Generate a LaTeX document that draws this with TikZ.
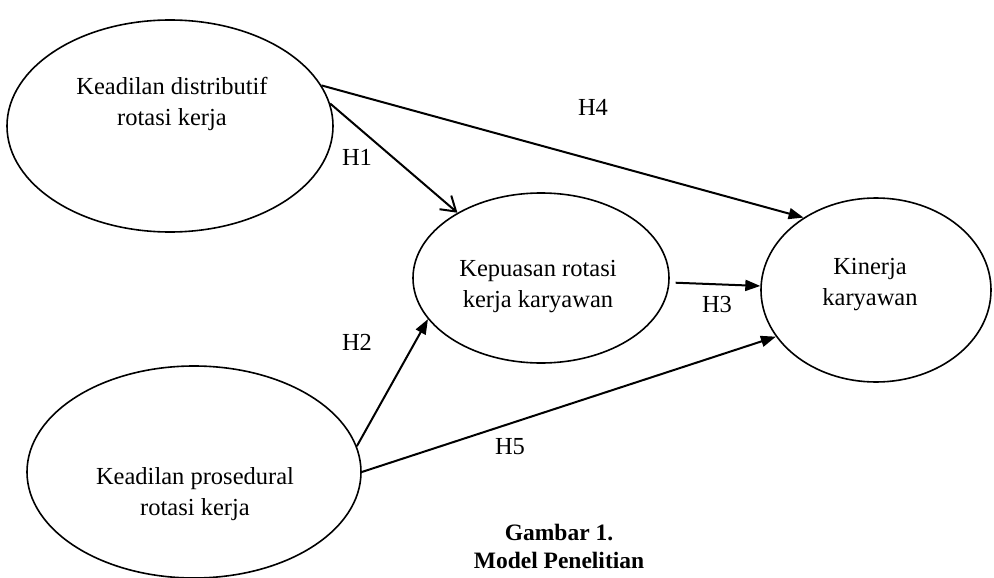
\documentclass[tikz,border=0pt]{standalone}
\usepackage{fontspec}
\setmainfont{Liberation Serif}
\usetikzlibrary{shapes.geometric}
\usetikzlibrary{arrows.meta}

\begin{document}
\begin{tikzpicture}[x=1pt,y=-1pt,
  oval/.style={draw,ellipse,line width=1.6pt,inner sep=0pt},
  txt/.style={align=center,font=\fontsize{24.5}{31}\selectfont},
  hyp/.style={font=\fontsize{24.5}{28}\selectfont},
  arr/.style={line width=2pt,-{Triangle[length=15pt,width=11pt]}},
  openarr/.style={line width=2pt,-{Straight Barb[length=14pt,width=18pt]}}]
 \useasboundingbox (0,0) rectangle (994,578);

 \node[oval,minimum width=326pt,minimum height=212pt] (dist) at (170,126) {};
 \node[oval,minimum width=334pt,minimum height=212pt] (pros) at (194,472) {};
 \node[oval,minimum width=256pt,minimum height=170pt] (puas) at (541,278) {};
 \node[oval,minimum width=230pt,minimum height=184pt] (kin) at (876,290) {};

 \node[txt] (distT) at (172,104) {Keadilan distributif\\rotasi kerja};
 \node[txt] (prosT) at (195,494) {Keadilan prosedural\\rotasi kerja};
 \node[txt] (puasT) at (538,287) {Kepuasan rotasi\\kerja karyawan};
 \node[txt] (kinT) at (870,285) {Kinerja\\karyawan};

 \draw[openarr] (dist.8) -- (puas.142);
 \draw[arr] (dist.15) -- (kin.135);
 \draw[arr] (pros.9) -- (puas.200);
 \draw[arr] (pros.east) -- (kin.205);
 \draw[arr,shorten <=6pt] (puas.-2) -- (kin.178);

 \node[hyp] (h1) at (357,157) {H1};
 \node[hyp] (h2) at (357,342) {H2};
 \node[hyp] (h3) at (717,305) {H3};
 \node[hyp] (h4) at (593,107) {H4};
 \node[hyp] (h5) at (510,447) {H5};

 \node[align=center,font=\fontsize{23.5}{28}\selectfont\bfseries] (cap) at (559,546)
   {Gambar 1.\\Model Penelitian};
\end{tikzpicture}
\end{document}
